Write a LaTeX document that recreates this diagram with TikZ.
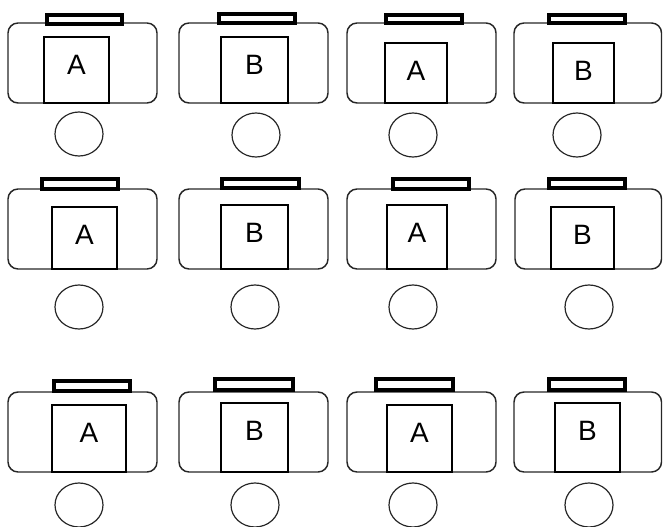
\documentclass[tikz,border=0pt]{standalone}
\usepackage{fontspec}
\setmainfont{Liberation Sans}
\usetikzlibrary{shapes.geometric}
\tikzset{
  desk/.style={draw=black!85, line width=1.1pt, rounded corners=7.5pt},
  topbar/.style={draw=black, line width=3pt, fill=white},
  paper/.style={draw=black, line width=1.1pt, fill=white},
  seat/.style={draw=black!85, line width=0.9pt, ellipse, minimum width=36pt, minimum height=33pt, inner sep=0pt},
  lbl/.style={font=\fontsize{21}{24}\selectfont, inner sep=0pt}
}
\begin{document}
\begin{tikzpicture}[x=0.75pt,y=-0.75pt]
\useasboundingbox (0,0) rectangle (663,527);
% ---------- row 1 ----------
\draw[desk] (8,23) rectangle (157,103);
\draw[paper] (44,37) rectangle (109,103);
\node[lbl] (p11) at (76.5,64.5) {A};
\draw[topbar] (47,15) rectangle (122,24);
\node[seat] (s11) at (79,134) {};

\draw[desk] (179,23) rectangle (328,103);
\draw[paper] (221,37) rectangle (288,103);
\node[lbl] (p12) at (254.5,64.5) {B};
\draw[topbar] (219,14) rectangle (295,23);
\node[seat] (s12) at (256,135) {};

\draw[desk] (347,23) rectangle (496,103);
\draw[paper] (385,43) rectangle (447,103);
\node[lbl] (p13) at (416,70.5) {A};
\draw[topbar] (386,15) rectangle (462,23);
\node[seat] (s13) at (413,135) {};

\draw[desk] (514,23) rectangle (661.5,103);
\draw[paper] (553,43) rectangle (614,103);
\node[lbl] (p14) at (583.5,70.5) {B};
\draw[topbar] (549,15) rectangle (625,23);
\node[seat] (s14) at (577,135) {};

% ---------- row 2 ----------
\draw[desk] (8,189) rectangle (157,269);
\draw[paper] (52,207) rectangle (117,269);
\node[lbl] (p21) at (84.5,234.5) {A};
\draw[topbar] (42,179) rectangle (118,189);
\node[seat] (s21) at (79,307) {};

\draw[desk] (179,189) rectangle (328,269);
\draw[paper] (221,205) rectangle (288,269);
\node[lbl] (p22) at (254.5,232.5) {B};
\draw[topbar] (222,179) rectangle (299,188);
\node[seat] (s22) at (255,307) {};

\draw[desk] (347,189) rectangle (496,269);
\draw[paper] (387,205) rectangle (447,269);
\node[lbl] (p23) at (417,232.5) {A};
\draw[topbar] (393,179) rectangle (469,189);
\node[seat] (s23) at (413,307) {};

\draw[desk] (515,189) rectangle (661.5,269);
\draw[paper] (551,207) rectangle (614,269);
\node[lbl] (p24) at (582.5,234.5) {B};
\draw[topbar] (549,179) rectangle (625,188);
\node[seat] (s24) at (589,307) {};

% ---------- row 3 ----------
\draw[desk] (8,392) rectangle (157,472);
\draw[paper] (52,405) rectangle (126,472);
\node[lbl] (p31) at (89,432.5) {A};
\draw[topbar] (54,381) rectangle (130,391);
\node[seat] (s31) at (79,505) {};

\draw[desk] (179,392) rectangle (328,472);
\draw[paper] (221,403) rectangle (288,472);
\node[lbl] (p32) at (254.5,430.5) {B};
\draw[topbar] (215,379) rectangle (293,390);
\node[seat] (s32) at (255,505) {};

\draw[desk] (347,392) rectangle (496,472);
\draw[paper] (387,405) rectangle (452,472);
\node[lbl] (p33) at (419.5,432.5) {A};
\draw[topbar] (376,379) rectangle (453,390);
\node[seat] (s33) at (413,505) {};

\draw[desk] (514,392) rectangle (661.5,472);
\draw[paper] (555,403) rectangle (620,472);
\node[lbl] (p34) at (587.5,430.5) {B};
\draw[topbar] (549,379) rectangle (625,390);
\node[seat] (s34) at (589,505) {};
\end{tikzpicture}
\end{document}
